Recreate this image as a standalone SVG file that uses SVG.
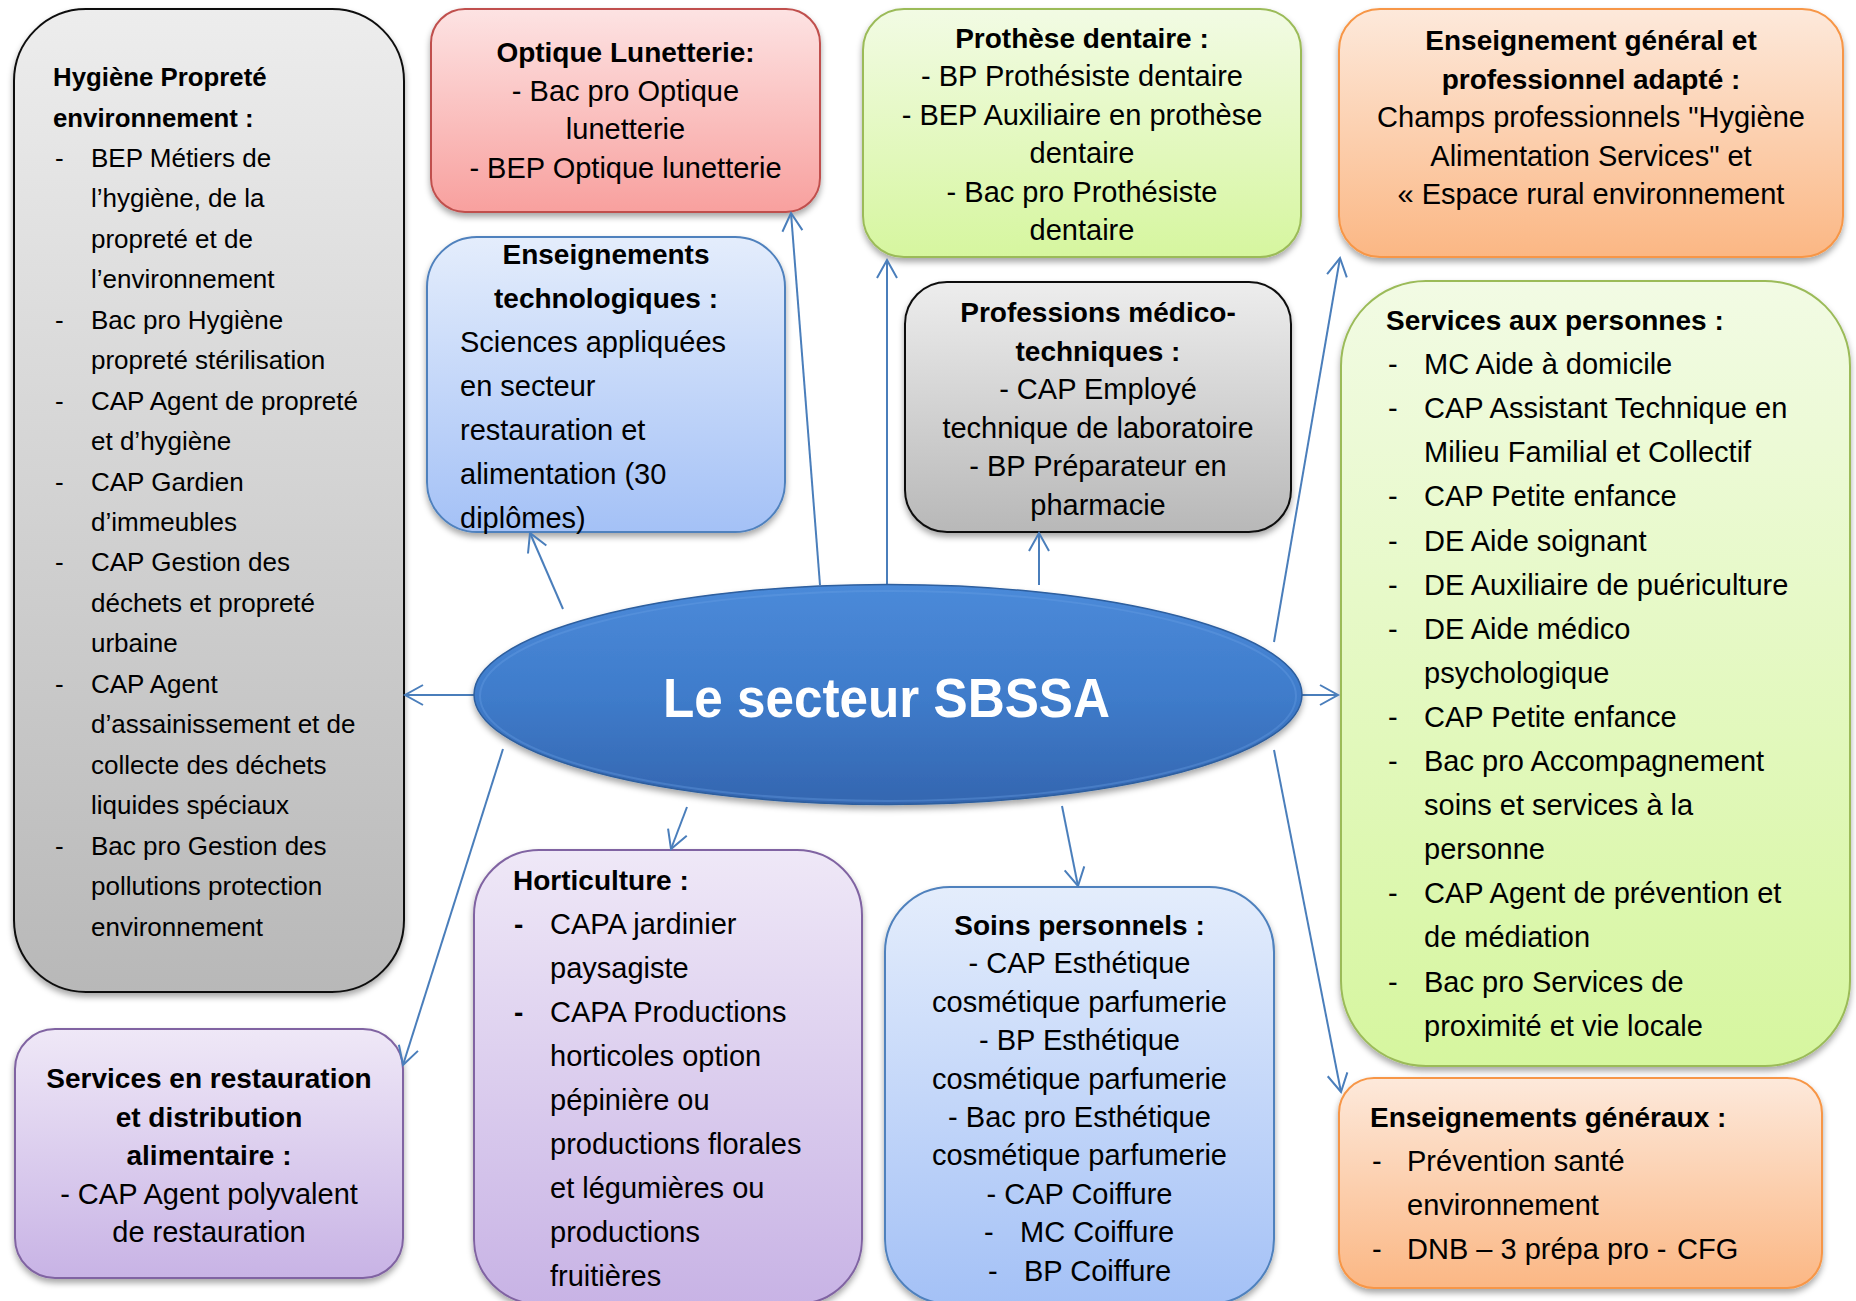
<svg xmlns="http://www.w3.org/2000/svg" width="1856" height="1301" viewBox="0 0 1856 1301">
<defs>
<style>
.t{font-family:"Liberation Sans",Arial,sans-serif;font-size:29px;fill:#000}
.b{font-weight:bold;font-size:28px}
.h{font-size:26px}
.hb{font-weight:bold;font-size:25.8px}
.c{text-anchor:middle}
.box{stroke-width:2}
.con{fill:none;stroke:#4a7ebb;stroke-width:2;marker-end:url(#arr)}
</style>
<linearGradient id="gGray" x1="0" y1="0" x2="0" y2="1"><stop offset="0" stop-color="#ededed"/><stop offset="1" stop-color="#b8b8b8"/></linearGradient>
<linearGradient id="gRed" x1="0" y1="0" x2="0" y2="1"><stop offset="0" stop-color="#fde3e3"/><stop offset="1" stop-color="#f8a09e"/></linearGradient>
<linearGradient id="gBlue" x1="0" y1="0" x2="0" y2="1"><stop offset="0" stop-color="#e4edfc"/><stop offset="1" stop-color="#a4c1f6"/></linearGradient>
<linearGradient id="gGreen" x1="0" y1="0" x2="0" y2="1"><stop offset="0" stop-color="#f2fbe4"/><stop offset="1" stop-color="#d6f69f"/></linearGradient>
<linearGradient id="gOrange" x1="0" y1="0" x2="0" y2="1"><stop offset="0" stop-color="#fde9db"/><stop offset="1" stop-color="#fbb784"/></linearGradient>
<linearGradient id="gPurple" x1="0" y1="0" x2="0" y2="1"><stop offset="0" stop-color="#efe8f7"/><stop offset="1" stop-color="#c8b3e5"/></linearGradient>
<linearGradient id="gEll" x1="0" y1="0" x2="0" y2="1"><stop offset="0" stop-color="#4b8ad9"/><stop offset="0.5" stop-color="#3f7ccb"/><stop offset="1" stop-color="#3466b0"/></linearGradient>
<filter id="sh" x="-10%" y="-10%" width="120%" height="120%"><feDropShadow dx="0" dy="4" stdDeviation="3" flood-color="#000" flood-opacity="0.35"/></filter>
<marker id="arr" markerUnits="userSpaceOnUse" markerWidth="24" markerHeight="24" viewBox="-21 -12 24 24" refX="0" refY="0" orient="auto"><path d="M-18,-10 L0,0 L-18,10" fill="none" stroke="#4a7ebb" stroke-width="2"/></marker>
</defs>
<rect width="1856" height="1301" fill="#fff"/>

<g id="hygiene">
<rect class="box" x="14" y="9" width="390" height="983" rx="72" fill="url(#gGray)" stroke="#111" filter="url(#sh)"/>
<text class="t hb" x="53" y="86">Hygiène Propreté</text>
<text class="t hb" x="53" y="126.5">environnement :</text>
<text class="t h" x="55" y="166.9">-</text><text class="t h" x="91" y="166.9">BEP Métiers de</text>
<text class="t h" x="91" y="207.4">l’hygiène, de la</text>
<text class="t h" x="91" y="247.8">propreté et de</text>
<text class="t h" x="91" y="288.3">l’environnement</text>
<text class="t h" x="55" y="328.7">-</text><text class="t h" x="91" y="328.7">Bac pro Hygiène</text>
<text class="t h" x="91" y="369.2">propreté stérilisation</text>
<text class="t h" x="55" y="409.6">-</text><text class="t h" x="91" y="409.6">CAP Agent de propreté</text>
<text class="t h" x="91" y="450.1">et d’hygiène</text>
<text class="t h" x="55" y="490.5">-</text><text class="t h" x="91" y="490.5">CAP Gardien</text>
<text class="t h" x="91" y="531">d’immeubles</text>
<text class="t h" x="55" y="571.4">-</text><text class="t h" x="91" y="571.4">CAP Gestion des</text>
<text class="t h" x="91" y="611.9">déchets et propreté</text>
<text class="t h" x="91" y="652.3">urbaine</text>
<text class="t h" x="55" y="692.8">-</text><text class="t h" x="91" y="692.8">CAP Agent</text>
<text class="t h" x="91" y="733.2">d’assainissement et de</text>
<text class="t h" x="91" y="773.7">collecte des déchets</text>
<text class="t h" x="91" y="814.1">liquides spéciaux</text>
<text class="t h" x="55" y="854.6">-</text><text class="t h" x="91" y="854.6">Bac pro Gestion des</text>
<text class="t h" x="91" y="895">pollutions protection</text>
<text class="t h" x="91" y="935.5">environnement</text>
</g>

<g id="optique">
<rect class="box" x="431" y="9" width="389" height="203" rx="34" fill="url(#gRed)" stroke="#c0504d" filter="url(#sh)"/>
<text class="t b c" x="625.5" y="62">Optique Lunetterie:</text>
<text class="t c" x="625.5" y="100.5">- Bac pro Optique</text>
<text class="t c" x="625.5" y="139">lunetterie</text>
<text class="t c" x="625.5" y="177.5">- BEP Optique lunetterie</text>
</g>

<g id="enseignements-technologiques">
<rect class="box" x="427" y="237" width="358" height="295" rx="50" fill="url(#gBlue)" stroke="#4f81bd" filter="url(#sh)"/>
<text class="t b c" x="606" y="264">Enseignements</text>
<text class="t b c" x="606" y="308">technologiques :</text>
<text class="t" x="460" y="352">Sciences appliquées</text>
<text class="t" x="460" y="396">en secteur</text>
<text class="t" x="460" y="440">restauration et</text>
<text class="t" x="460" y="484">alimentation (30</text>
<text class="t" x="460" y="528">diplômes)</text>
</g>

<g id="prothese">
<rect class="box" x="863" y="9" width="438" height="248" rx="41" fill="url(#gGreen)" stroke="#9bbb59" filter="url(#sh)"/>
<text class="t b c" x="1082" y="48">Prothèse dentaire :</text>
<text class="t c" x="1082" y="86.4">- BP Prothésiste dentaire</text>
<text class="t c" x="1082" y="124.8">- BEP Auxiliaire en prothèse</text>
<text class="t c" x="1082" y="163.2">dentaire</text>
<text class="t c" x="1082" y="201.6">- Bac pro Prothésiste</text>
<text class="t c" x="1082" y="240">dentaire</text>
</g>

<g id="enseignement-adapte">
<rect class="box" x="1339" y="9" width="504" height="248" rx="41" fill="url(#gOrange)" stroke="#f79646" filter="url(#sh)"/>
<text class="t b c" x="1591" y="50">Enseignement général et</text>
<text class="t b c" x="1591" y="88.5">professionnel adapté :</text>
<text class="t c" x="1591" y="127">Champs professionnels "Hygiène</text>
<text class="t c" x="1591" y="165.5">Alimentation Services" et</text>
<text class="t c" x="1591" y="204">« Espace rural environnement</text>
</g>

<g id="medico-techniques">
<rect class="box" x="905" y="282" width="386" height="250" rx="42" fill="url(#gGray)" stroke="#111" filter="url(#sh)"/>
<text class="t b c" x="1098" y="322">Professions médico-</text>
<text class="t b c" x="1098" y="360.5">techniques :</text>
<text class="t c" x="1098" y="399">- CAP Employé</text>
<text class="t c" x="1098" y="437.5">technique de laboratoire</text>
<text class="t c" x="1098" y="476">- BP Préparateur en</text>
<text class="t c" x="1098" y="514.5">pharmacie</text>
</g>

<g id="services-personnes">
<rect class="box" x="1341" y="281" width="509" height="785" rx="85" fill="url(#gGreen)" stroke="#9bbb59" filter="url(#sh)"/>
<text class="t b" x="1386" y="330">Services aux personnes :</text>
<text class="t" x="1388" y="374.1">-</text><text class="t" x="1424" y="374.1">MC Aide à domicile</text>
<text class="t" x="1388" y="418.2">-</text><text class="t" x="1424" y="418.2">CAP Assistant Technique en</text>
<text class="t" x="1424" y="462.3">Milieu Familial et Collectif</text>
<text class="t" x="1388" y="506.4">-</text><text class="t" x="1424" y="506.4">CAP Petite enfance</text>
<text class="t" x="1388" y="550.5">-</text><text class="t" x="1424" y="550.5">DE Aide soignant</text>
<text class="t" x="1388" y="594.6">-</text><text class="t" x="1424" y="594.6">DE Auxiliaire de puériculture</text>
<text class="t" x="1388" y="638.7">-</text><text class="t" x="1424" y="638.7">DE Aide médico</text>
<text class="t" x="1424" y="682.8">psychologique</text>
<text class="t" x="1388" y="726.9">-</text><text class="t" x="1424" y="726.9">CAP Petite enfance</text>
<text class="t" x="1388" y="771">-</text><text class="t" x="1424" y="771">Bac pro Accompagnement</text>
<text class="t" x="1424" y="815.1">soins et services à la</text>
<text class="t" x="1424" y="859.2">personne</text>
<text class="t" x="1388" y="903.3">-</text><text class="t" x="1424" y="903.3">CAP Agent de prévention et</text>
<text class="t" x="1424" y="947.4">de médiation</text>
<text class="t" x="1388" y="991.5">-</text><text class="t" x="1424" y="991.5">Bac pro Services de</text>
<text class="t" x="1424" y="1035.6">proximité et vie locale</text>
</g>

<g id="restauration">
<rect class="box" x="15" y="1029" width="388" height="249" rx="40" fill="url(#gPurple)" stroke="#8064a2" filter="url(#sh)"/>
<text class="t b c" x="209" y="1088">Services en restauration</text>
<text class="t b c" x="209" y="1126.5">et distribution</text>
<text class="t b c" x="209" y="1165">alimentaire :</text>
<text class="t c" x="209" y="1203.5">- CAP Agent polyvalent</text>
<text class="t c" x="209" y="1242">de restauration</text>
</g>

<g id="horticulture">
<rect class="box" x="474" y="850" width="388" height="454" rx="65" fill="url(#gPurple)" stroke="#8064a2" filter="url(#sh)"/>
<text class="t b" x="513" y="890">Horticulture :</text>
<text class="t b" x="514" y="934">-</text><text class="t" x="550" y="934">CAPA jardinier</text>
<text class="t" x="550" y="978">paysagiste</text>
<text class="t b" x="514" y="1022">-</text><text class="t" x="550" y="1022">CAPA Productions</text>
<text class="t" x="550" y="1066">horticoles option</text>
<text class="t" x="550" y="1110">pépinière ou</text>
<text class="t" x="550" y="1154">productions florales</text>
<text class="t" x="550" y="1198">et légumières ou</text>
<text class="t" x="550" y="1242">productions</text>
<text class="t" x="550" y="1286">fruitières</text>
</g>

<g id="soins-personnels">
<rect class="box" x="885" y="887" width="389" height="417" rx="65" fill="url(#gBlue)" stroke="#4f81bd" filter="url(#sh)"/>
<text class="t b c" x="1079.5" y="935">Soins personnels :</text>
<text class="t c" x="1079.5" y="973.4">- CAP Esthétique</text>
<text class="t c" x="1079.5" y="1011.8">cosmétique parfumerie</text>
<text class="t c" x="1079.5" y="1050.2">- BP Esthétique</text>
<text class="t c" x="1079.5" y="1088.6">cosmétique parfumerie</text>
<text class="t c" x="1079.5" y="1127">- Bac pro Esthétique</text>
<text class="t c" x="1079.5" y="1165.4">cosmétique parfumerie</text>
<text class="t c" x="1079.5" y="1203.8">- CAP Coiffure</text>
<text class="t" x="984" y="1242.2">-</text><text class="t" x="1020" y="1242.2">MC Coiffure</text>
<text class="t" x="988" y="1280.6">-</text><text class="t" x="1024" y="1280.6">BP Coiffure</text>
</g>

<g id="enseignements-generaux">
<rect class="box" x="1339" y="1078" width="483" height="210" rx="35" fill="url(#gOrange)" stroke="#f79646" filter="url(#sh)"/>
<text class="t b" x="1370" y="1127">Enseignements généraux :</text>
<text class="t" x="1372" y="1171">-</text><text class="t" x="1407" y="1171">Prévention santé</text>
<text class="t" x="1407" y="1215">environnement</text>
<text class="t" x="1372" y="1259">-</text><text class="t" x="1407" y="1259">DNB – 3 prépa pro -</text><text class="t" x="1677" y="1259">CFG</text>
</g>

<g id="connectors">
<line class="con" x1="474" y1="695" x2="405" y2="695"/>
<line class="con" x1="503" y1="749" x2="403" y2="1065"/>
<line class="con" x1="563" y1="609" x2="530" y2="533"/>
<line class="con" x1="820" y1="585" x2="791" y2="213"/>
<line class="con" x1="887" y1="584" x2="887" y2="260"/>
<line class="con" x1="1039" y1="585" x2="1039" y2="533"/>
<line class="con" x1="1274" y1="642" x2="1340" y2="258"/>
<line class="con" x1="1302" y1="695" x2="1338" y2="695"/>
<line class="con" x1="1062" y1="806" x2="1078" y2="886"/>
<line class="con" x1="1274" y1="750" x2="1341" y2="1092"/>
<line class="con" x1="687" y1="807" x2="671" y2="849"/>
</g>

<g id="center">
<ellipse cx="888" cy="694.5" rx="414" ry="110" fill="url(#gEll)" stroke="#2d5e9e" stroke-width="1.5" filter="url(#sh)"/>
<ellipse cx="888" cy="696" rx="408" ry="105" fill="none" stroke="#6aa0e4" stroke-opacity="0.35" stroke-width="2"/>
<text x="663" y="717" textLength="447" lengthAdjust="spacingAndGlyphs" style="font-family:'Liberation Sans',Arial,sans-serif;font-weight:bold;font-size:56px;fill:#fff">Le secteur SBSSA</text>
</g>
</svg>
